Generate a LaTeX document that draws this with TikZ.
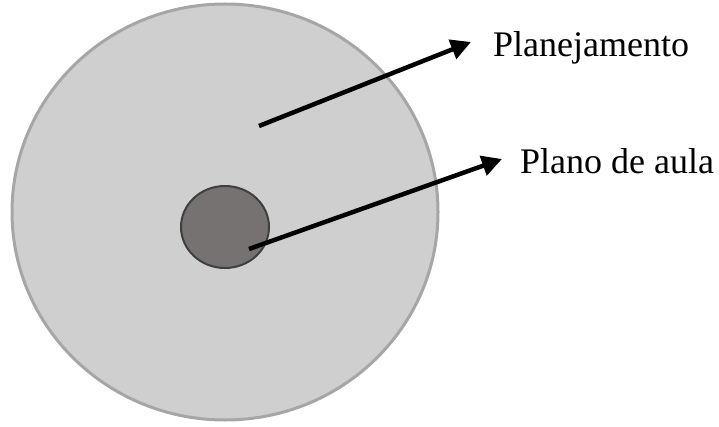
\documentclass[tikz,border=0pt]{standalone}
\usepackage{fontspec}
\setmainfont{Liberation Serif}
\usetikzlibrary{shapes.geometric,arrows.meta}
\definecolor{outerfill}{HTML}{D0CFD0}
\definecolor{outerline}{HTML}{A6A6A6}
\definecolor{innerfill}{HTML}{767272}
\definecolor{innerline}{HTML}{3F3F3F}
\tikzset{
  outerell/.style={ellipse, inner sep=0pt, fill=outerfill, draw=outerline, line width=3pt},
  innerell/.style={ellipse, inner sep=0pt, fill=innerfill, draw=innerline, line width=2pt},
  lbl/.style={anchor=base west, inner sep=0pt, font=\fontsize{36}{40}\selectfont},
  pointer/.style={line width=4.5pt, -{Triangle[length=20pt,width=20pt]}}
}
\begin{document}
\begin{tikzpicture}[x=1pt,y=1pt]
  \useasboundingbox (0,0) rectangle (719,426);
  \node[outerell, minimum width=426pt, minimum height=416pt] (plan) at (225,214) {};
  \node[innerell, minimum width=88pt, minimum height=82pt] (aula) at (225,199) {};
  \node[lbl] (tplan) at (493,369) {Planejamento};
  \node[lbl] (taula) at (520,252) {Plano de aula};
  \coordinate (s1) at (259,300);
  \coordinate (e1) at (471,384);
  \coordinate (s2) at (249,177);
  \coordinate (e2) at (502,267);
  \draw[pointer] (s1) -- (e1);
  \draw[pointer] (s2) -- (e2);
\end{tikzpicture}
\end{document}
